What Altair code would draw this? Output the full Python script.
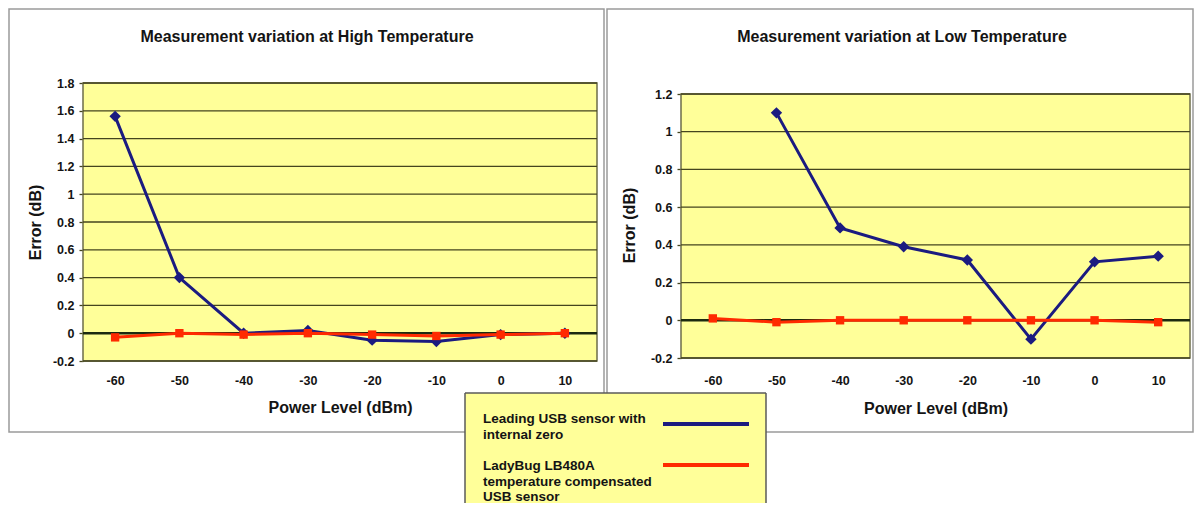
import altair as alt
import pandas as pd

# ---------------- data ----------------
power_levels = [-60, -50, -40, -30, -20, -10, 0, 10]
series_names = ["Leading USB sensor with internal zero",
                "LadyBug LB480A temperature compensated USB sensor"]
legend_lines = [["Leading USB sensor with", "internal zero"],
                ["LadyBug LB480A", "temperature compensated", "USB sensor"]]
chart_titles = ["Measurement variation at High Temperature",
                "Measurement variation at Low Temperature"]
x_title = "Power Level (dBm)"
y_title = "Error (dB)"

high_usb = [1.56, 0.40, 0.00, 0.02, -0.05, -0.06, -0.01, 0.00]
high_ladybug = [-0.03, 0.00, -0.01, 0.00, -0.01, -0.02, -0.01, 0.00]
low_usb = [None, 1.10, 0.49, 0.39, 0.32, -0.10, 0.31, 0.34]
low_ladybug = [0.01, -0.01, 0.00, 0.00, 0.00, 0.00, 0.00, -0.01]

high_ticks = [-0.2, 0, 0.2, 0.4, 0.6, 0.8, 1, 1.2, 1.4, 1.6, 1.8]
low_ticks = [-0.2, 0, 0.2, 0.4, 0.6, 0.8, 1, 1.2]

# ---------------- style ----------------
FONT = "Liberation Sans"
TXT = "#141414"
YELLOW = "#FFFF99"
GRID = "#45451f"
PLOT_BORDER = "#6e6e4a"
ZERO = "#1c2a10"
BLUE = "#1b1b80"
RED = "#ff2a00"
PANEL = "#9a9a9a"
LEG_BORDER = "#5a5a5a"

one_row = pd.DataFrame({"k": [0]})


def panel(usb, lady, ticks, title, W, H, rng, xlab_pad, xtitle_y,
          ytitle_x, ytitle_y, border, title_x, legend=False):
    y_scale = alt.Scale(domain=[min(ticks), max(ticks)], range=rng, nice=False, zero=False)
    x_scale = alt.Scale(type="point", domain=power_levels, padding=0.5)
    x_axis = alt.Axis(title=x_title, labelAngle=0, ticks=False, tickSize=0, domain=False,
                      grid=False, labelPadding=xlab_pad, labelFont=FONT, labelFontSize=12.5,
                      labelFontWeight="bold", labelColor=TXT, titleFont=FONT, titleFontSize=16,
                      titleFontWeight="bold", titleColor=TXT, titleY=xtitle_y,
                      titleBaseline="middle", labelOverlap=False)
    y_axis = alt.Axis(values=ticks, labelExpr="'' + datum.value", title=y_title,
                      titleAngle=270, titleX=ytitle_x, titleY=ytitle_y, titleAlign="center",
                      titleBaseline="middle", grid=False, domain=False, ticks=True, tickSize=4,
                      tickColor=GRID, tickWidth=1.3, labelPadding=5, labelFont=FONT,
                      labelFontSize=12.5, labelFontWeight="bold", labelColor=TXT,
                      labelOverlap=False, labelBound=False,
                      titleFont=FONT, titleFontSize=16, titleFontWeight="bold", titleColor=TXT)

    X = alt.X("power:O", scale=x_scale, axis=x_axis, sort=power_levels)
    Y = alt.Y("error:Q", scale=y_scale, axis=y_axis)

    bg = alt.Chart(one_row).mark_rect(fill=YELLOW, stroke=PLOT_BORDER, strokeWidth=1.5).encode(
        x=alt.value(0), x2=alt.value(W),
        y=alt.YDatum(max(ticks), scale=y_scale, axis=y_axis),
        y2=alt.Y2Datum(min(ticks)))

    grid = alt.Chart(pd.DataFrame({"v": ticks})).mark_rule(color=GRID, strokeWidth=1.3).encode(
        y=alt.Y("v:Q", scale=y_scale, axis=y_axis))

    zero = alt.Chart(one_row).mark_rule(color=ZERO, strokeWidth=2.5).encode(
        y=alt.YDatum(0, scale=y_scale, axis=y_axis))

    usb_df = pd.DataFrame({"power": power_levels, "error": usb})
    lady_df = pd.DataFrame({"power": power_levels, "error": lady})

    blue = alt.Chart(usb_df).mark_line(
        color=BLUE, strokeWidth=3,
        point=alt.OverlayMarkDef(shape="diamond", size=130, filled=True, color=BLUE, opacity=1)
    ).encode(x=X, y=Y)
    red = alt.Chart(lady_df).mark_line(
        color=RED, strokeWidth=3,
        point=alt.OverlayMarkDef(shape="square", size=70, filled=True, color=RED, opacity=1)
    ).encode(x=X, y=Y)

    bx0, bx1, by0, by1 = border
    frame = alt.Chart(one_row).mark_rect(fill="transparent", stroke=PANEL, strokeWidth=1.5).encode(
        x=alt.value(bx0), x2=alt.value(bx1), y=alt.value(by0), y2=alt.value(by1))

    ttl = alt.Chart(one_row).mark_text(font=FONT, fontSize=16, fontWeight="bold", color=TXT,
                                       align="center", baseline="middle").encode(
        x=alt.value(title_x), y=alt.value(-46), text=alt.value(title))

    layers = [frame, bg, grid, zero, blue, red, ttl]

    if legend:
        lx0, lx1, ly0, ly1 = -216, 85, 310, 420
        leg_bg = alt.Chart(one_row).mark_rect(fill=YELLOW).encode(
            x=alt.value(lx0), x2=alt.value(lx1), y=alt.value(ly0), y2=alt.value(ly1))
        leg_top = alt.Chart(one_row).mark_rule(color=LEG_BORDER, strokeWidth=1.5).encode(
            x=alt.value(lx0), x2=alt.value(lx1), y=alt.value(ly0))
        leg_left = alt.Chart(one_row).mark_rule(color=LEG_BORDER, strokeWidth=1.5).encode(
            x=alt.value(lx0), y=alt.value(ly0), y2=alt.value(ly1))
        leg_right = alt.Chart(one_row).mark_rule(color=LEG_BORDER, strokeWidth=1.5).encode(
            x=alt.value(lx1), y=alt.value(ly0), y2=alt.value(ly1))
        layers += [leg_bg, leg_top, leg_left, leg_right]
        for lines, col, ty, sy in [(legend_lines[0], BLUE, 329, 341),
                                   (legend_lines[1], RED, 376, 382)]:
            layers.append(alt.Chart(one_row).mark_text(
                font=FONT, fontSize=13.5, fontWeight="bold", color=TXT, align="left",
                baseline="top", lineHeight=15.5).encode(
                x=alt.value(-198), y=alt.value(ty), text=alt.value(lines)))
            layers.append(alt.Chart(one_row).mark_rule(color=col, strokeWidth=4).encode(
                x=alt.value(-18), x2=alt.value(68), y=alt.value(sy)))

    return alt.layer(*layers).properties(width=W, height=H)


left = panel(high_usb, high_ladybug, high_ticks, chart_titles[0], 514, 278, [278, 0],
             13, 46, -48, 139, (-74, 521, -74, 349), 224)
right = panel(low_usb, low_ladybug, low_ticks, chart_titles[1], 509, 275, [275, 11],
              16, 50, -52, 142, (-74, 512, -74, 349), 221, legend=True)

chart = alt.hconcat(left, right, spacing=84, bounds="flush").properties(
    padding=0, background="white"
).configure_view(strokeWidth=0)

chart.save("out.html", embed_options={"renderer": "svg", "actions": False})
